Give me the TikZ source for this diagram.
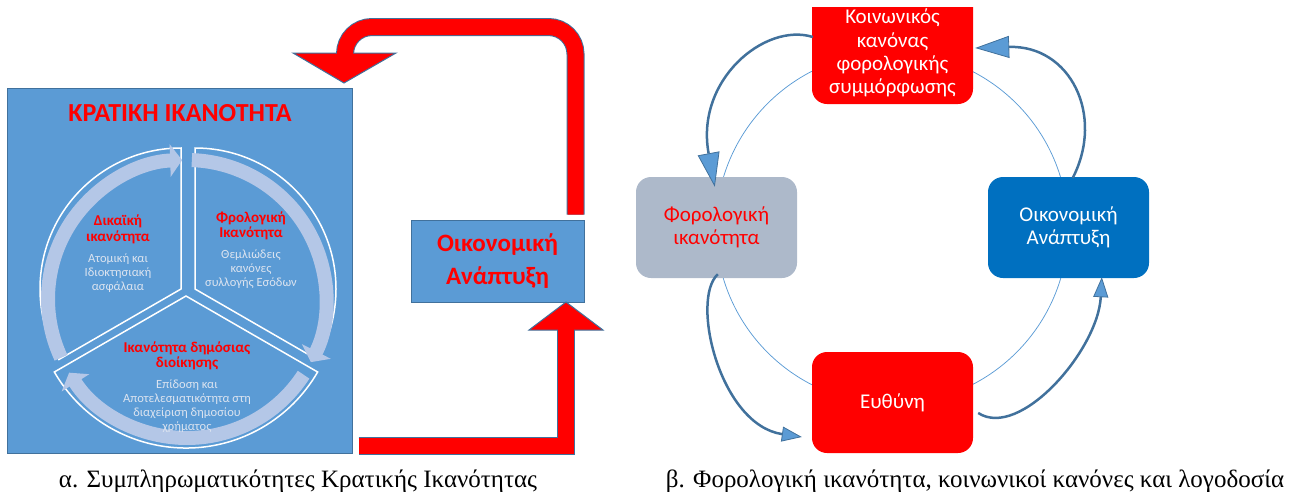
\documentclass[tikz,border=0pt]{standalone}
\usepackage{fontspec}
\setmainfont{Liberation Serif}
\newfontfamily\carl{Carlito}
\usetikzlibrary{arrows.meta}
\definecolor{panelblue}{HTML}{5B9BD5}
\definecolor{edgeblue}{HTML}{41719C}
\definecolor{ringc}{HTML}{B4C7E7}
\definecolor{softtext}{HTML}{DCE4F0}
\definecolor{grayfill}{HTML}{ADB9CA}
\definecolor{ecoblue}{HTML}{0070C0}
\definecolor{pured}{HTML}{FF0000}
\begin{document}
\begin{tikzpicture}[x=1pt,y=-1pt,
  ringarrow/.style={ringc, line width=14pt, -{Triangle[length=12pt,width=32pt]}},
  slicecut/.style={white, line width=1.5pt},
  redhead/.style={fill=pured, draw=edgeblue, line width=1pt, line join=miter},
  redshaftout/.style={edgeblue, line width=18pt},
  redshaft/.style={pured, line width=16pt},
  rbox/.style={rounded corners=15pt, minimum width=161pt, minimum height=101pt, inner sep=0pt, align=center,
               font=\carl\fontsize{21}{23.5}\selectfont},
  cycline/.style={edgeblue, line width=2.5pt},
  bighead/.style={cycline, -{Triangle[length=34pt,width=22pt,fill=panelblue,line width=0.8pt]}},
  smallhead/.style={cycline, -{Triangle[length=20pt,width=15pt,fill=panelblue,line width=0.8pt]}},
  redlbl/.style={text=pured, font=\carl\bfseries\fontsize{15}{15.5}\selectfont, align=center, inner sep=0pt},
  softlbl/.style={text=softtext, font=\carl\fontsize{12.5}{14}\selectfont, align=center, inner sep=0pt},
  boxlbl/.style={font=\carl\fontsize{21}{23.3}\selectfont, align=center, inner sep=0pt},
  caption/.style={font=\fontsize{25}{25}\selectfont, anchor=base, inner sep=0pt}
]
\useasboundingbox (0,0) rectangle (1293,491);

% ---------- left panel ----------
\node[draw=edgeblue, fill=panelblue, line width=1pt, minimum width=345pt, minimum height=365pt, inner sep=0pt] (panel) at (179.5,270.5) {};
\node[text=pured, font=\carl\bfseries\fontsize{26}{30}\selectfont, inner sep=0pt] (title) at (180,113) {ΚΡΑΤΙΚΗ ΙΚΑΝΟΤΗΤΑ};

\coordinate (A1) at (181,289);
\coordinate (A2) at (195,289);
\coordinate (A3) at (186,296);
\coordinate (C) at (187,299);
\draw[slicecut] (A1) -- ++(270:141) arc[start angle=270,end angle=150,radius=141] -- cycle;
\draw[slicecut] (A2) -- ++(270:141) arc[start angle=270,end angle=390,radius=141] -- cycle;
\draw[slicecut] (A3) -- ++(150:152) arc[start angle=150,end angle=30,radius=152] -- cycle;

\draw[ringarrow] ([shift={(155:139)}]C) arc[start angle=155,end angle=268,radius=139];
\draw[ringarrow] ([shift={(272:139)}]C) arc[start angle=272,end angle=387,radius=139];
\draw[ringarrow] ([shift={(33:139)}]C) arc[start angle=33,end angle=148,radius=139];

\node[redlbl] (s1a) at (118,229.5) {Δικαϊκή\\ικανότητα};
\node[softlbl] (s1b) at (118,273) {Ατομική και\\Ιδιοκτησιακή\\ασφάλαια};
\node[redlbl] (s2a) at (251,226) {Φρολογική\\Ικανότητα};
\node[softlbl] (s2b) at (251,269) {Θεμλιώδεις\\κανόνες\\συλλογής Εσόδων};
\node[redlbl] (s3a) at (187,356) {Ικανότητα δημόσιας\\διοίκησης};
\node[softlbl] (s3b) at (187,406) {Επίδοση και\\Αποτελεσματικότητα στη\\διαχείριση δημοσίου\\χρήματος};

% economic development box
\node[draw=edgeblue, fill=panelblue, line width=1pt, minimum width=173pt, minimum height=82pt, inner sep=0pt,
      text=pured, font=\carl\bfseries\fontsize{25}{33}\selectfont, align=center] (econ) at (497.5,261) {Οικονομική\\Ανάπτυξη};

% top red arrow
\coordinate (tstart) at ([shift={(-9,-5)}]econ.north east);
\coordinate (tcorner) at (345,27);
\coordinate (thead) at (345,53);
\coordinate (theadin) at (345,56);
\draw[redshaftout, rounded corners=27pt] (tstart) |- (tcorner) -- (thead);
\draw[redhead] (293,53) -- (396,53) -- (344,83) -- cycle;
\draw[redshaft, rounded corners=27pt] (tstart) |- (tcorner) -- (theadin);

% bottom red arrow
\coordinate (bstart) at ([shift={(6,-8)}]panel.south east);
\coordinate (bhead) at (566,330);
\coordinate (bheadin) at (566,327);
\draw[redshaftout, line join=miter] (bstart) -| (bhead);
\draw[redhead] (529,330) -- (603,330) -- (566,302) -- cycle;
\draw[redshaft, line join=miter] (bstart) -| (bheadin);

% ---------- right panel ----------
\coordinate (cyc) at (892,228);
\draw[panelblue, line width=0.75pt] (cyc) circle[radius=176];

\begin{scope}
\clip (600,7) rectangle (1293,491);
\node[rbox, fill=pured, minimum height=134pt] (soc) at (892.5,37) {};
\end{scope}
\node[boxlbl, text=white] (socT) at (892.5,53) {Κοινωνικός\\κανόνας\\φορολογικής\\συμμόρφωσης};
\node[rbox, fill=grayfill, text=pured] (tax) at (716.5,227.5) {Φορολογική\\ικανότητα};
\node[rbox, fill=ecoblue, text=white] (eco) at (1068.5,227.5) {Οικονομική\\Ανάπτυξη};
\node[rbox, fill=pured, text=white] (ev) at (892.5,402.5) {Ευθύνη};

\draw[bighead] ([shift={(1,0)}]soc.west) .. controls (765,22) and (695,80) .. ([shift={(79,10)}]tax.north west);
\draw[bighead] ([shift={(85,1)}]eco.north west) .. controls (1105,115) and (1070,45) .. ([shift={(2,11)}]soc.east);
\draw[smallhead] ([shift={(5,10.5)}]ev.east) .. controls (1020,440) and (1098,350) .. ([shift={(114,-1)}]eco.south west);
\draw[smallhead] ([shift={(82,-4)}]tax.south west) .. controls (690,300) and (720,425) .. ([shift={(-10,34.5)}]ev.west);

% ---------- captions ----------
\node[caption] (capa) at (298,487) {α. Συμπληρωματικότητες Κρατικής Ικανότητας};
\node[caption] (capb) at (975,487) {β. Φορολογική ικανότητα, κοινωνικοί κανόνες και λογοδοσία};
\end{tikzpicture}
\end{document}
